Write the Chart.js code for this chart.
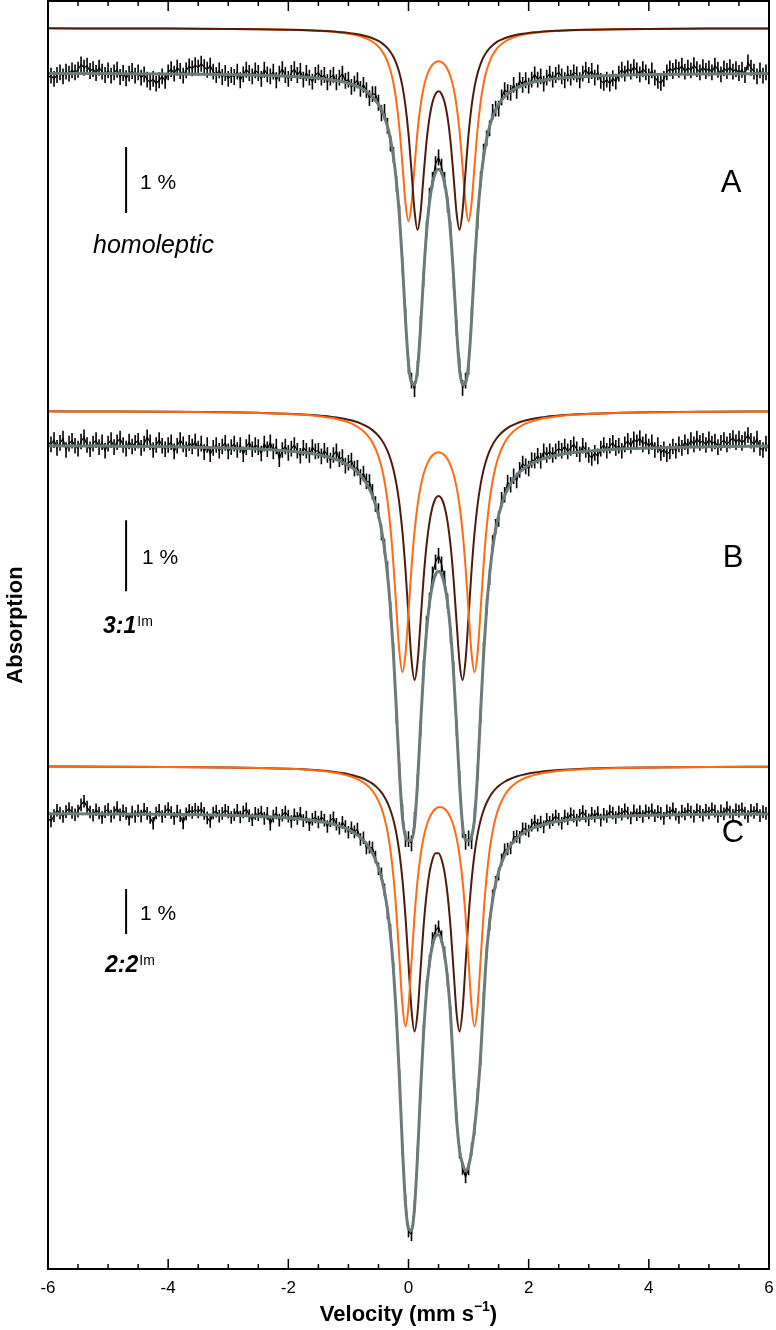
<!DOCTYPE html>
<html>
<head>
<meta charset="utf-8">
<title>Mossbauer spectra</title>
<script src="https://cdn.jsdelivr.net/npm/chart.js@4.4.1/dist/chart.umd.min.js"></script>
<style>
  html, body { margin: 0; padding: 0; background: #fff; }
  #wrap { width: 776px; height: 1330px; }
</style>
</head>
<body>
<div id="wrap"><canvas id="spectra" width="776" height="1330"></canvas></div>
<script>
// velocity ticks on the x axis (mm/s)
const velocityTicks = [-6, -4, -2, 0, 2, 4, 6];

// velocities where the fitted curves are read
const fitVelocity = [-6, -5, -4, -3, -2.5, -2, -1.75, -1.5, -1.4, -1.3, -1.2, -1.1, -1, -0.9, -0.8, -0.7, -0.6,
  -0.5, -0.45, -0.4, -0.35, -0.3, -0.25, -0.2, -0.15, -0.1, -0.05, 0, 0.05, 0.1, 0.15, 0.2, 0.25, 0.3, 0.35, 0.4, 0.45,
  0.5, 0.55, 0.6, 0.65, 0.7, 0.75, 0.8, 0.85, 0.9, 0.95, 1, 1.05, 1.1, 1.15, 1.2, 1.25, 1.3, 1.35, 1.4, 1.45, 1.5,
  1.6, 1.7, 1.8, 1.9, 2, 2.1, 2.2, 2.3, 2.4, 2.5, 2.75, 3, 3.5, 4, 5, 6];

// ---- A: homoleptic (relative transmission, %) ----
const fitA = [99.994, 99.991, 99.986, 99.976, 99.967, 99.951, 99.939, 99.921, 99.911, 99.899, 99.884, 99.867, 99.844, 99.814, 99.774, 99.720, 99.641,
  99.524, 99.440, 99.333, 99.190, 98.995, 98.725, 98.347, 97.819, 97.100, 96.266, 95.597, 95.306, 95.274, 95.505, 96.124, 96.914, 97.582, 98.046, 98.335, 98.491,
  98.540, 98.491, 98.335, 98.046, 97.582, 96.914, 96.124, 95.505, 95.274, 95.306, 95.597, 96.266, 97.100, 97.819, 98.347, 98.725, 98.995, 99.190, 99.333, 99.440, 99.524,
  99.641, 99.720, 99.774, 99.814, 99.844, 99.867, 99.884, 99.899, 99.911, 99.921, 99.939, 99.951, 99.967, 99.976, 99.986, 99.991];
const orangeA = [99.997, 99.995, 99.993, 99.988, 99.983, 99.975, 99.969, 99.959, 99.953, 99.947, 99.939, 99.929, 99.916, 99.899, 99.875, 99.843, 99.794,
  99.719, 99.664, 99.592, 99.494, 99.357, 99.163, 98.880, 98.472, 97.925, 97.349, 97.073, 97.336, 97.898, 98.431, 98.823, 99.089, 99.264, 99.377, 99.447, 99.486,
  99.498, 99.486, 99.447, 99.377, 99.264, 99.089, 98.823, 98.431, 97.898, 97.336, 97.073, 97.349, 97.925, 98.472, 98.880, 99.163, 99.357, 99.494, 99.592, 99.664, 99.719,
  99.794, 99.843, 99.875, 99.899, 99.916, 99.929, 99.939, 99.947, 99.953, 99.959, 99.969, 99.975, 99.983, 99.988, 99.993, 99.995];
const brownA = [99.997, 99.995, 99.993, 99.988, 99.984, 99.976, 99.971, 99.962, 99.957, 99.952, 99.945, 99.938, 99.928, 99.915, 99.899, 99.877, 99.847,
  99.805, 99.776, 99.741, 99.696, 99.638, 99.562, 99.459, 99.316, 99.113, 98.820, 98.398, 97.832, 97.236, 96.944, 97.198, 97.755, 98.277, 98.648, 98.879, 99.003,
  99.042, 99.003, 98.879, 98.648, 98.277, 97.755, 97.198, 96.944, 97.236, 97.832, 98.398, 98.820, 99.113, 99.316, 99.459, 99.562, 99.638, 99.696, 99.741, 99.776, 99.805,
  99.847, 99.877, 99.899, 99.915, 99.928, 99.938, 99.945, 99.952, 99.957, 99.962, 99.971, 99.976, 99.984, 99.988, 99.993, 99.995];

// ---- B: 3:1 Im ----
const fitB = [99.989, 99.985, 99.977, 99.960, 99.945, 99.917, 99.895, 99.862, 99.844, 99.822, 99.794, 99.760, 99.715, 99.656, 99.575, 99.459, 99.286,
  99.011, 98.808, 98.539, 98.176, 97.696, 97.049, 96.238, 95.382, 94.745, 94.483, 94.430, 94.433, 94.644, 95.234, 96.040, 96.794, 97.374, 97.777, 98.033, 98.175,
  98.221, 98.175, 98.033, 97.777, 97.374, 96.794, 96.040, 95.234, 94.644, 94.433, 94.430, 94.483, 94.745, 95.382, 96.238, 97.049, 97.696, 98.176, 98.539, 98.808, 99.011,
  99.286, 99.459, 99.575, 99.656, 99.715, 99.760, 99.794, 99.822, 99.844, 99.862, 99.895, 99.917, 99.945, 99.960, 99.977, 99.985];
const orangeB = [99.995, 99.992, 99.988, 99.980, 99.972, 99.957, 99.945, 99.926, 99.916, 99.903, 99.887, 99.866, 99.839, 99.802, 99.750, 99.674, 99.556,
  99.361, 99.213, 99.013, 98.736, 98.352, 97.833, 97.197, 96.592, 96.323, 96.579, 97.172, 97.794, 98.298, 98.667, 98.927, 99.109, 99.235, 99.321, 99.376, 99.407,
  99.418, 99.407, 99.376, 99.321, 99.235, 99.109, 98.927, 98.667, 98.298, 97.794, 97.172, 96.579, 96.323, 96.592, 97.197, 97.833, 98.352, 98.736, 99.013, 99.213, 99.361,
  99.556, 99.674, 99.750, 99.802, 99.839, 99.866, 99.887, 99.903, 99.916, 99.926, 99.945, 99.957, 99.972, 99.980, 99.988, 99.992];
const brownB = [99.995, 99.992, 99.988, 99.981, 99.973, 99.961, 99.950, 99.936, 99.928, 99.919, 99.908, 99.894, 99.876, 99.854, 99.825, 99.785, 99.730,
  99.650, 99.595, 99.526, 99.438, 99.324, 99.171, 98.965, 98.681, 98.289, 97.760, 97.112, 96.493, 96.209, 96.452, 97.029, 97.630, 98.107, 98.439, 98.650, 98.766,
  98.803, 98.766, 98.650, 98.439, 98.107, 97.630, 97.029, 96.452, 96.209, 96.493, 97.112, 97.760, 98.289, 98.681, 98.965, 99.171, 99.324, 99.438, 99.526, 99.595, 99.650,
  99.730, 99.785, 99.825, 99.854, 99.876, 99.894, 99.908, 99.919, 99.928, 99.936, 99.950, 99.961, 99.973, 99.981, 99.988, 99.992];

// ---- C: 2:2 Im ----
const fitC = [99.985, 99.979, 99.969, 99.947, 99.926, 99.890, 99.859, 99.817, 99.793, 99.764, 99.730, 99.686, 99.629, 99.554, 99.454, 99.314, 99.108,
  98.789, 98.559, 98.255, 97.848, 97.291, 96.517, 95.451, 94.069, 92.541, 91.322, 90.755, 90.724, 91.225, 92.367, 93.806, 95.087, 96.037, 96.673, 97.064, 97.262,
  97.295, 97.167, 96.857, 96.324, 95.515, 94.300, 93.200, 92.500, 92.200, 92.050, 92.150, 92.500, 93.000, 93.700, 94.600, 95.800, 96.889, 97.571, 98.066, 98.426, 98.695,
  99.058, 99.285, 99.437, 99.544, 99.621, 99.680, 99.726, 99.762, 99.792, 99.816, 99.859, 99.889, 99.926, 99.947, 99.969, 99.979];
const orangeC = [99.992, 99.989, 99.984, 99.972, 99.960, 99.941, 99.924, 99.899, 99.886, 99.869, 99.848, 99.822, 99.788, 99.741, 99.678, 99.587, 99.450,
  99.230, 99.067, 98.848, 98.548, 98.128, 97.538, 96.722, 95.692, 94.679, 94.219, 94.659, 95.651, 96.658, 97.451, 98.015, 98.406, 98.675, 98.857, 98.978, 99.051,
  99.086, 99.086, 99.051, 98.978, 98.857, 98.675, 98.406, 98.015, 97.451, 96.658, 95.651, 94.659, 94.219, 94.679, 95.692, 96.722, 97.538, 98.128, 98.548, 98.848, 99.067,
  99.354, 99.526, 99.637, 99.713, 99.766, 99.806, 99.836, 99.859, 99.878, 99.893, 99.920, 99.937, 99.959, 99.971, 99.983, 99.989];
const brownC = [99.992, 99.989, 99.984, 99.973, 99.961, 99.943, 99.929, 99.908, 99.897, 99.884, 99.867, 99.847, 99.822, 99.789, 99.747, 99.690, 99.611,
  99.495, 99.416, 99.315, 99.187, 99.020, 98.796, 98.490, 98.065, 97.469, 96.646, 95.609, 94.585, 94.105, 94.514, 95.465, 96.422, 97.153, 97.641, 97.932, 98.067,
  98.067, 97.932, 97.641, 97.153, 96.422, 95.465, 94.514, 94.105, 94.585, 95.609, 96.646, 97.469, 98.065, 98.490, 98.796, 99.020, 99.187, 99.315, 99.416, 99.495, 99.559,
  99.654, 99.721, 99.770, 99.807, 99.835, 99.857, 99.876, 99.891, 99.903, 99.913, 99.932, 99.946, 99.963, 99.973, 99.984, 99.989];

// measured points, one per channel from -6 to 6 mm/s (step 0.05)
const dataA = [
  99.93, 99.96, 99.91, 99.97, 100.01, 99.95, 100.02, 99.99, 100.04, 100.01,
  100.05, 100.13, 100.08, 100.11, 100.03, 100.06, 100.00, 100.08, 100.02, 99.97,
  100.04, 99.96, 100.01, 100.05, 99.94, 100.00, 99.92, 99.99, 100.03, 99.96,
  100.01, 99.93, 99.98, 99.90, 99.86, 99.91, 99.84, 99.89, 99.95, 99.88,
  100.01, 100.06, 99.99, 100.08, 100.03, 99.96, 100.04, 100.10, 100.07, 100.12,
  100.08, 100.14, 100.09, 100.05, 100.11, 100.02, 99.97, 100.04, 99.94, 100.00,
  99.91, 99.97, 99.94, 100.02, 99.89, 99.98, 100.05, 100.00, 99.95, 100.04,
  100.00, 99.91, 100.05, 99.98, 99.95, 100.02, 99.89, 99.99, 100.06, 99.97,
  99.91, 100.00, 100.06, 99.97, 100.03, 99.90, 100.00, 99.93, 99.87, 99.97,
  100.01, 99.93, 99.97, 99.86, 99.93, 99.97, 99.86, 99.93, 99.99, 99.88,
  99.90, 99.79, 99.84, 99.89, 99.76, 99.82, 99.74, 99.62, 99.68, 99.68,
  99.55, 99.39, 99.41, 99.20, 98.93, 98.76, 98.32, 97.88, 97.08, 96.32,
  95.56, 95.34, 95.21, 95.52, 96.20, 96.88, 97.63, 98.14, 98.38, 98.62,
  98.72, 98.58, 98.38, 98.01, 97.63, 96.85, 96.14, 95.57, 95.23, 95.34,
  95.55, 96.33, 97.12, 97.75, 98.39, 98.81, 99.01, 99.16, 99.41, 99.46,
  99.46, 99.63, 99.74, 99.71, 99.70, 99.82, 99.73, 99.89, 99.82, 99.89,
  99.81, 99.90, 99.98, 99.90, 99.95, 99.84, 99.93, 99.99, 99.90, 99.97,
  100.01, 99.95, 99.89, 99.99, 99.93, 100.01, 99.98, 99.89, 99.99, 100.05,
  99.97, 100.03, 99.93, 100.01, 99.88, 99.85, 99.90, 99.84, 99.92, 99.87,
  99.99, 100.05, 99.99, 100.07, 100.02, 100.09, 100.04, 99.98, 100.06, 100.01,
  99.95, 100.04, 99.93, 99.88, 99.85, 99.91, 100.01, 100.07, 100.03, 100.09,
  100.05, 100.11, 100.02, 100.08, 100.04, 100.12, 100.06, 100.01, 100.09, 100.03,
  100.07, 100.01, 100.11, 100.05, 99.98, 100.07, 100.03, 100.09, 100.02, 100.06,
  100.00, 100.05, 99.97, 100.16, 100.08, 100.02, 99.95, 100.04, 99.96, 100.01,
  99.97];
const dataB = [
  100.04, 100.01, 100.07, 99.96, 100.03, 100.09, 99.93, 100.02, 100.06, 99.99,
  99.95, 100.05, 100.11, 100.00, 99.94, 100.02, 100.07, 99.97, 100.04, 99.92,
  100.02, 100.07, 99.97, 100.04, 100.09, 100.00, 99.95, 100.05, 99.98, 100.03,
  100.06, 99.96, 100.02, 100.11, 100.04, 99.93, 100.00, 100.07, 99.99, 99.94,
  100.00, 100.04, 99.91, 99.99, 100.07, 100.01, 99.94, 100.03, 99.98, 100.05,
  99.95, 100.02, 99.90, 100.00, 99.87, 99.96, 100.00, 99.92, 99.98, 100.03,
  99.91, 99.97, 100.02, 99.93, 100.00, 99.87, 99.97, 100.04, 99.94, 100.00,
  99.97, 99.88, 100.02, 99.94, 100.04, 99.91, 99.98, 99.80, 99.93, 99.98,
  99.89, 99.95, 100.00, 99.92, 99.85, 99.96, 99.92, 99.86, 99.97, 99.91,
  99.92, 99.84, 99.92, 99.86, 99.78, 99.86, 99.91, 99.80, 99.83, 99.71,
  99.75, 99.78, 99.67, 99.68, 99.55, 99.60, 99.49, 99.48, 99.34, 99.17,
  99.07, 98.77, 98.57, 98.25, 97.68, 97.10, 96.18, 95.42, 94.83, 94.45,
  94.45, 94.39, 94.72, 95.25, 96.00, 96.86, 97.48, 97.81, 98.18, 98.35,
  98.44, 98.32, 98.12, 97.80, 97.32, 96.84, 96.02, 95.30, 94.58, 94.41,
  94.46, 94.42, 94.79, 95.38, 96.20, 97.12, 97.72, 98.14, 98.62, 98.85,
  98.96, 99.23, 99.30, 99.47, 99.44, 99.56, 99.50, 99.65, 99.74, 99.70,
  99.67, 99.79, 99.78, 99.85, 99.78, 99.91, 99.86, 99.91, 99.86, 99.91,
  99.95, 99.92, 99.98, 99.91, 99.96, 100.01, 99.94, 99.87, 99.99, 99.93,
  99.86, 99.82, 99.89, 99.84, 99.95, 100.00, 99.92, 99.99, 100.03, 99.96,
  99.99, 99.92, 100.01, 100.06, 99.99, 100.08, 100.04, 100.10, 100.01, 100.05,
  99.98, 100.04, 99.93, 100.00, 99.89, 99.94, 99.87, 99.91, 99.98, 99.92,
  100.01, 99.96, 100.04, 99.98, 100.07, 100.01, 100.09, 100.03, 100.06, 100.00,
  100.08, 100.02, 100.05, 99.97, 100.03, 100.07, 100.01, 100.06, 100.10, 100.04,
  100.09, 100.03, 100.08, 100.14, 100.06, 100.01, 100.09, 99.96, 99.93, 100.02,
  99.94];
const dataC = [
  99.88, 99.82, 99.94, 100.06, 100.00, 99.92, 100.03, 100.10, 100.01, 99.96,
  100.04, 100.18, 100.26, 100.13, 100.02, 99.95, 100.07, 100.00, 99.90, 100.03,
  100.08, 99.93, 100.01, 100.12, 99.96, 100.05, 99.99, 99.86, 100.02, 99.92,
  100.05, 99.93, 100.08, 99.99, 99.90, 99.77, 100.00, 100.06, 99.92, 100.03,
  100.10, 100.01, 99.88, 100.04, 99.94, 99.78, 99.98, 100.06, 100.01, 100.08,
  100.02, 100.10, 99.99, 99.89, 99.81, 100.00, 100.04, 99.93, 99.99, 100.06,
  100.02, 99.90, 99.96, 100.06, 99.91, 100.02, 100.09, 99.94, 99.85, 99.99,
  99.96, 100.02, 99.88, 99.99, 99.75, 99.93, 100.00, 99.84, 99.95, 100.02,
  99.93, 99.81, 99.96, 99.88, 99.99, 99.83, 99.91, 99.74, 99.86, 99.91,
  99.80, 99.91, 99.84, 99.70, 99.83, 99.89, 99.75, 99.66, 99.79, 99.70,
  99.57, 99.67, 99.58, 99.64, 99.41, 99.45, 99.22, 99.24, 99.22, 99.02,
  98.76, 98.65, 98.29, 97.78, 97.39, 96.54, 95.40, 94.15, 92.52, 91.38,
  90.71, 90.63, 91.25, 92.44, 93.75, 95.14, 96.14, 96.71, 97.21, 97.38,
  97.47, 97.25, 96.89, 96.27, 95.57, 94.22, 93.22, 92.46, 92.10, 91.91,
  92.09, 92.53, 92.98, 93.75, 94.53, 95.88, 96.90, 97.53, 98.16, 98.46,
  98.64, 98.96, 99.18, 99.20, 99.22, 99.46, 99.48, 99.46, 99.65, 99.64,
  99.60, 99.73, 99.82, 99.73, 99.80, 99.69, 99.86, 99.79, 99.85, 99.93,
  99.86, 99.77, 99.93, 99.87, 99.98, 99.93, 99.84, 99.95, 100.03, 99.93,
  99.85, 99.99, 99.93, 100.01, 99.84, 99.97, 99.92, 100.04, 100.00, 99.90,
  100.02, 99.97, 100.07, 100.00, 99.89, 100.05, 99.96, 100.03, 99.92, 100.05,
  100.00, 100.07, 99.94, 100.03, 99.99, 99.88, 100.05, 100.00, 100.09, 99.97,
  99.90, 100.04, 99.98, 100.08, 100.02, 99.93, 100.07, 100.03, 99.95, 100.06,
  100.00, 100.09, 100.04, 99.92, 100.05, 99.98, 100.12, 100.02, 99.95, 100.07,
  100.04, 100.09, 100.00, 99.92, 100.06, 100.01, 100.08, 99.94, 100.03, 99.99,
  99.95];

// half length of the error bars (%), one per spectrum
const errorBars = [0.12, 0.11, 0.14];
// the subspectra are drawn lifted above the data (%)
const componentLift = [0.68, 0.48, 1.04];
// top of each "1 %" scale bar, in that spectrum's own units
const scaleBarTop = [98.88, 98.94, 98.31];
const scaleBarVelocity = -4.70;

const velocity = [];
for (let i = 0; i <= 240; i++) velocity.push(Math.round((-6 + i * 0.05) * 100) / 100);

const FONT = '"Liberation Sans", Arial, Helvetica, sans-serif';
const GREY = '#6b7b7a';
const ORANGE = '#ff6a13';
const BROWN = '#4e1c0c';

function pairs(xs, ys, lift) {
  return ys.map((y, i) => ({ x: xs[i], y: y + (lift || 0) }));
}

const panels = [
  { axis: 'yA', fit: fitA, orange: orangeA, brown: brownA, data: dataA, brownOnTop: true },
  { axis: 'yB', fit: fitB, orange: orangeB, brown: brownB, data: dataB, brownOnTop: false },
  { axis: 'yC', fit: fitC, orange: orangeC, brown: brownC, data: dataC, brownOnTop: false }
];

const datasets = [];
panels.forEach((p, k) => {
  datasets.push({
    data: pairs(fitVelocity, p.fit), yAxisID: p.axis,
    borderColor: GREY, borderWidth: 3, pointRadius: 0,
    cubicInterpolationMode: 'monotone', order: 1
  });
  datasets.push({
    data: pairs(velocity, p.data), yAxisID: p.axis,
    borderColor: '#000', borderWidth: 1.2, pointRadius: 0,
    order: 2, errorBar: errorBars[k]
  });
  datasets.push({
    data: pairs(fitVelocity, p.orange, componentLift[k]), yAxisID: p.axis,
    borderColor: ORANGE, borderWidth: 2, pointRadius: 0,
    cubicInterpolationMode: 'monotone', order: p.brownOnTop ? 4 : 3
  });
  datasets.push({
    data: pairs(fitVelocity, p.brown, componentLift[k]), yAxisID: p.axis,
    borderColor: BROWN, borderWidth: 2, pointRadius: 0,
    cubicInterpolationMode: 'monotone', order: p.brownOnTop ? 3 : 4
  });
  datasets.push({
    data: [{ x: scaleBarVelocity, y: scaleBarTop[k] }, { x: scaleBarVelocity, y: scaleBarTop[k] - 1 }],
    yAxisID: p.axis, borderColor: '#000', borderWidth: 2, pointRadius: 0, order: 0
  });
});

const decorations = {
  id: 'decorations',
  beforeDatasetsDraw(chart) {
    const ctx = chart.ctx;
    ctx.save();
    ctx.strokeStyle = '#000';
    ctx.lineWidth = 1.6;
    chart.data.datasets.forEach((ds, i) => {
      if (!ds.errorBar) return;
      const meta = chart.getDatasetMeta(i);
      const ys = chart.scales[ds.yAxisID];
      ctx.beginPath();
      meta.data.forEach((pt, j) => {
        const v = ds.data[j].y;
        ctx.moveTo(pt.x, ys.getPixelForValue(v + ds.errorBar));
        ctx.lineTo(pt.x, ys.getPixelForValue(v - ds.errorBar));
      });
      ctx.stroke();
    });
    ctx.restore();
  },
  afterDraw(chart) {
    const { ctx, chartArea: a } = chart;
    const x = chart.scales.x;
    ctx.save();
    // frame
    ctx.strokeStyle = '#000';
    ctx.lineWidth = 2;
    ctx.strokeRect(a.left, a.top, a.right - a.left, a.bottom - a.top);
    // inward ticks, top and bottom
    ctx.lineWidth = 1.5;
    ctx.beginPath();
    for (let v = -5.5; v < 5.9; v += 0.5) {
      const px = x.getPixelForValue(v);
      const len = Math.abs(v % 2) < 1e-6 ? 10 : 5;
      ctx.moveTo(px, a.top); ctx.lineTo(px, a.top + len);
      ctx.moveTo(px, a.bottom); ctx.lineTo(px, a.bottom - len);
    }
    ctx.stroke();

    ctx.fillStyle = '#000';
    // tick labels
    ctx.font = '17px ' + FONT;
    ctx.textAlign = 'center';
    ctx.textBaseline = 'middle';
    velocityTicks.forEach(v => ctx.fillText(String(v), x.getPixelForValue(v), a.bottom + 19));

    ctx.textBaseline = 'alphabetic';
    ctx.textAlign = 'left';
    // scale bar captions
    ctx.font = '21px ' + FONT;
    ctx.fillText('1 %', 140, 189);
    ctx.fillText('1 %', 142, 564);
    ctx.fillText('1 %', 140, 920);
    // sample names
    ctx.font = 'italic 25px ' + FONT;
    ctx.fillText('homoleptic', 93, 253);
    const ratio = (txt, x0, base) => {
      ctx.font = 'italic bold 23px ' + FONT;
      ctx.fillText(txt, x0, base);
      const w = ctx.measureText(txt).width;
      ctx.font = '14px ' + FONT;
      ctx.fillText('Im', x0 + w + 1, base - 7);
    };
    ratio('3:1', 103, 633);
    ratio('2:2', 105, 972);
    // panel letters
    ctx.font = '31px ' + FONT;
    ctx.textAlign = 'center';
    ctx.fillText('A', 731, 192);
    ctx.fillText('B', 733, 567);
    ctx.fillText('C', 733, 842);
    // y title
    ctx.save();
    ctx.translate(22, 625);
    ctx.rotate(-Math.PI / 2);
    ctx.font = 'bold 22px ' + FONT;
    ctx.fillText('Absorption', 0, 0);
    ctx.restore();
    // x title with superscript
    const main = 'Velocity (mm s', sup = '\u22121', close = ')';
    ctx.textAlign = 'left';
    ctx.font = 'bold 22px ' + FONT;
    const w1 = ctx.measureText(main).width, w3 = ctx.measureText(close).width;
    ctx.font = 'bold 14px ' + FONT;
    const w2 = ctx.measureText(sup).width;
    const x0 = (a.left + a.right) / 2 - (w1 + w2 + w3) / 2;
    const base = 1321;
    ctx.font = 'bold 22px ' + FONT;
    ctx.fillText(main, x0, base);
    ctx.font = 'bold 14px ' + FONT;
    ctx.fillText(sup, x0 + w1, base - 10);
    ctx.font = 'bold 22px ' + FONT;
    ctx.fillText(close, x0 + w1 + w2, base);
    ctx.restore();
  }
};

new Chart(document.getElementById('spectra'), {
  type: 'line',
  data: { datasets },
  options: {
    responsive: false,
    animation: false,
    devicePixelRatio: 1,
    layout: { padding: { left: 48, right: 7, top: 1, bottom: 61 } },
    plugins: { legend: { display: false }, tooltip: { enabled: false } },
    elements: { line: { tension: 0 } },
    scales: {
      x: { type: 'linear', display: false, min: -6, max: 6 },
      yA: { display: false, min: 81.879, max: 101.091 },
      yB: { display: false, min: 88.395, max: 106.254 },
      yC: { display: false, min: 89.866, max: 118.044 }
    }
  },
  plugins: [decorations]
});
</script>
</body>
</html>
